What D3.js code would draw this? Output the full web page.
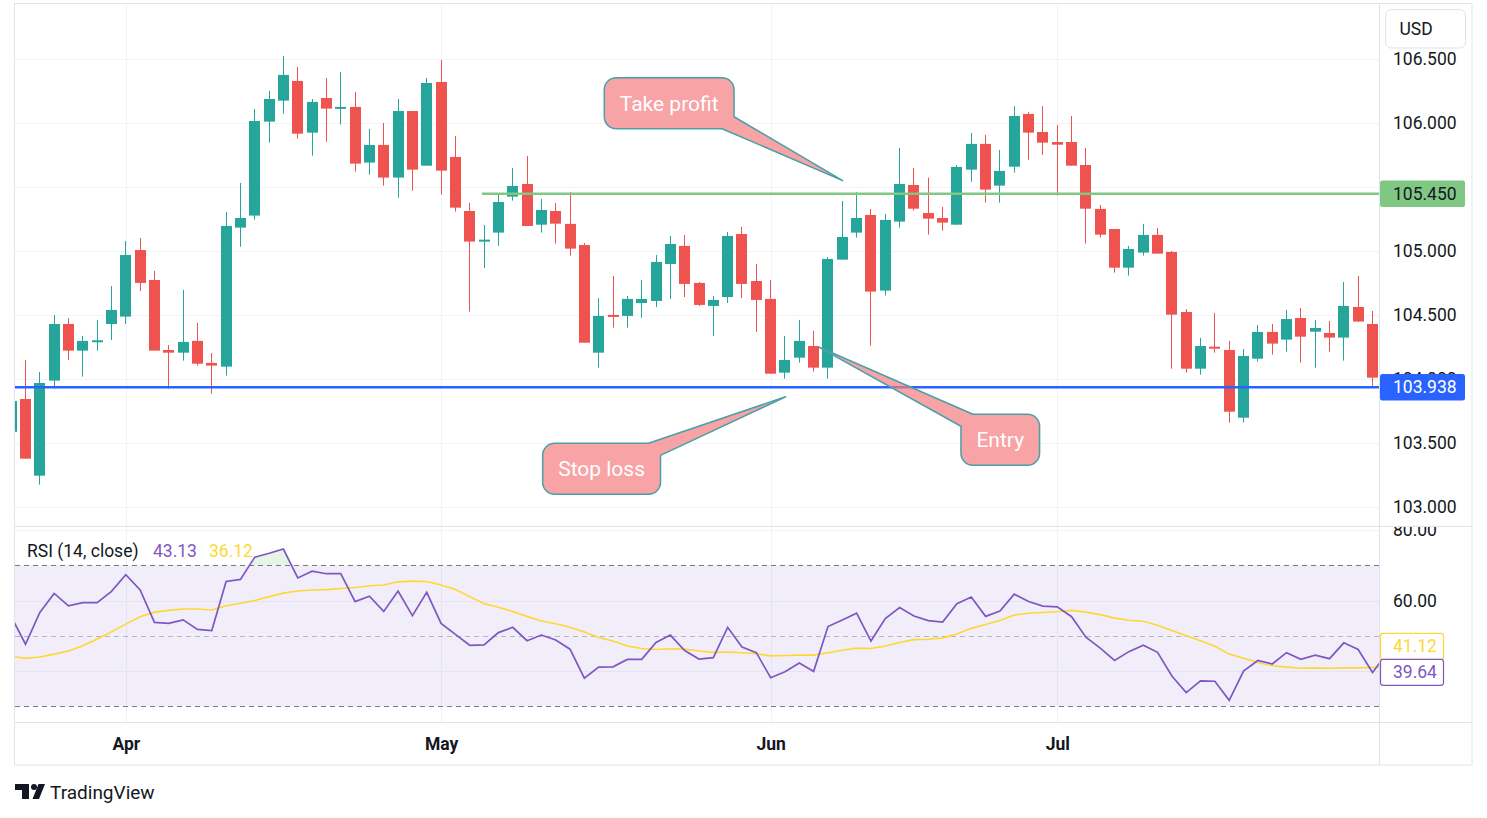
<!DOCTYPE html>
<html>
<head>
<meta charset="utf-8">
<script src="https://cdn.jsdelivr.net/npm/d3@7"></script>
<style>
  body { margin: 0; background: #fff; }
  svg { display: block; font-family: Roboto, "Noto Sans", sans-serif; }
</style>
</head>
<body>
<svg id="chart" width="1487" height="818"></svg>
<script>
// daily bars, first one only peeks in at the left edge, last one sits under the price scale
const dates = [
  "2024-03-20","2024-03-21","2024-03-22","2024-03-25","2024-03-26","2024-03-27","2024-03-28","2024-03-29",
  "2024-04-01","2024-04-02","2024-04-03","2024-04-04","2024-04-05","2024-04-08","2024-04-09","2024-04-10",
  "2024-04-11","2024-04-12","2024-04-15","2024-04-16","2024-04-17","2024-04-18","2024-04-19","2024-04-22",
  "2024-04-23","2024-04-24","2024-04-25","2024-04-26","2024-04-29","2024-04-30",
  "2024-05-01","2024-05-02","2024-05-03","2024-05-06","2024-05-07","2024-05-08","2024-05-09","2024-05-10",
  "2024-05-13","2024-05-14","2024-05-15","2024-05-16","2024-05-17","2024-05-20","2024-05-21","2024-05-22",
  "2024-05-23","2024-05-24","2024-05-27","2024-05-28","2024-05-29","2024-05-30","2024-05-31",
  "2024-06-03","2024-06-04","2024-06-05","2024-06-06","2024-06-07","2024-06-10","2024-06-11","2024-06-12",
  "2024-06-13","2024-06-14","2024-06-17","2024-06-18","2024-06-19","2024-06-20","2024-06-21","2024-06-24",
  "2024-06-25","2024-06-26","2024-06-27","2024-06-28",
  "2024-07-01","2024-07-02","2024-07-03","2024-07-04","2024-07-05","2024-07-08","2024-07-09","2024-07-10",
  "2024-07-11","2024-07-12","2024-07-15","2024-07-16","2024-07-17","2024-07-18","2024-07-19","2024-07-22",
  "2024-07-23","2024-07-24","2024-07-25","2024-07-26","2024-07-29","2024-07-30","2024-07-31",
  "2024-08-01"
];

const opens = [
  103.59, 103.846, 103.247, 103.99, 104.432, 104.224, 104.3, 104.432, 104.49, 105.01,
  104.776, 104.229, 104.208, 104.3, 104.128, 104.099, 105.185, 105.279, 106.013, 106.177,
  106.331, 105.927, 106.198, 106.122, 106.128, 105.693, 105.831, 105.576, 106.096, 105.669,
  106.323, 105.737, 105.315, 105.081, 105.146, 105.427, 105.526, 105.208, 105.315, 105.214,
  105.049, 104.208, 104.503, 104.495, 104.596, 104.612, 104.901, 105.042, 104.753, 104.573,
  104.643, 105.135, 104.768, 104.628, 104.052, 104.169, 104.26, 104.091, 104.935, 105.146,
  105.284, 104.693, 105.232, 105.518, 105.299, 105.26, 105.208, 105.638, 105.839, 105.513,
  105.661, 106.073, 105.932, 105.854, 105.854, 105.674, 105.331, 105.174, 104.872, 104.99,
  105.128, 104.995, 104.526, 104.083, 104.255, 104.229, 103.7, 104.161, 104.37, 104.31,
  104.479, 104.372, 104.362, 104.326, 104.565, 104.432, 104.013
];
const highs = [
  103.9, 104.151, 104.057, 104.503, 104.479, 104.339, 104.464, 104.729, 105.081, 105.104,
  104.846, 104.268, 104.698, 104.44, 104.206, 105.307, 105.534, 106.112, 106.253, 106.526,
  106.44, 106.19, 106.354, 106.401, 106.245, 105.956, 106.003, 106.19, 106.096, 106.354,
  106.495, 105.901, 105.378, 105.206, 105.453, 105.651, 105.745, 105.409, 105.378, 105.464,
  105.065, 104.635, 104.807, 104.651, 104.776, 104.971, 105.12, 105.128, 104.76, 104.651,
  105.151, 105.19, 104.901, 104.776, 104.339, 104.464, 104.378, 104.956, 105.393, 105.464,
  105.331, 105.292, 105.807, 105.651, 105.576, 105.346, 105.674, 105.924, 105.909, 105.792,
  106.135, 106.089, 106.135, 105.987, 106.057, 105.807, 105.362, 105.174, 105.042, 105.214,
  105.182, 105.003, 104.549, 104.323, 104.518, 104.3, 104.237, 104.424, 104.432, 104.542,
  104.557, 104.464, 104.456, 104.76, 104.807, 104.534, 104.18
];
const lows = [
  103.52, 103.38, 103.177, 103.927, 104.151, 104.021, 104.224, 104.307, 104.432, 104.69,
  104.224, 103.927, 104.146, 104.107, 103.888, 104.029, 105.036, 105.247, 105.849, 106.076,
  105.88, 105.747, 105.857, 105.99, 105.622, 105.599, 105.513, 105.419, 105.474, 105.669,
  105.443, 105.31, 104.529, 104.87, 105.042, 105.396, 105.198, 105.146, 105.06, 104.966,
  104.286, 104.091, 104.404, 104.404, 104.482, 104.565, 104.628, 104.643, 104.573, 104.339,
  104.596, 104.635, 104.37, 104.044, 104.005, 104.13, 104.06, 104.005, 104.935, 105.107,
  104.263, 104.654, 105.185, 105.318, 105.13, 105.161, 105.208, 105.544, 105.38, 105.38,
  105.615, 105.716, 105.753, 105.435, 105.669, 105.06, 105.107, 104.833, 104.81, 104.966,
  104.982, 104.083, 104.052, 104.036, 104.208, 103.661, 103.661, 104.138, 104.193, 104.216,
  104.13, 104.091, 104.216, 104.146, 104.451, 103.935, 103.95
];
const closes = [
  103.83, 103.38, 103.971, 104.432, 104.224, 104.3, 104.305, 104.542, 104.971, 104.753,
  104.224, 104.208, 104.292, 104.122, 104.107, 105.198, 105.26, 106.018, 106.19, 106.378,
  105.919, 106.167, 106.115, 106.128, 105.685, 105.831, 105.576, 106.096, 105.638, 106.315,
  105.63, 105.341, 105.076, 105.091, 105.385, 105.51, 105.198, 105.323, 105.216, 105.021,
  104.286, 104.495, 104.497, 104.628, 104.628, 104.917, 105.057, 104.745, 104.581, 104.62,
  105.12, 104.745, 104.62, 104.044, 104.151, 104.3, 104.091, 104.94, 105.112, 105.26,
  104.685, 105.245, 105.526, 105.333, 105.255, 105.224, 105.659, 105.839, 105.482, 105.628,
  106.057, 105.927, 105.849, 105.833, 105.669, 105.333, 105.13, 104.872, 105.018, 105.128,
  104.982, 104.505, 104.083, 104.26, 104.25, 103.747, 104.182, 104.37, 104.279, 104.471,
  104.333, 104.401, 104.326, 104.573, 104.451, 104.013, 104.12
];

const rsi = [
  55.5, 47.6, 56.6, 62.0, 58.5, 59.4, 59.4, 62.6, 67.3, 63.0,
  53.8, 53.5, 54.5, 51.8, 51.5, 65.4, 66.0, 72.3, 73.4, 74.6,
  66.4, 68.3, 67.6, 67.6, 59.7, 61.2, 56.9, 62.7, 55.7, 62.3,
  53.5, 50.4, 47.3, 47.4, 50.9, 52.4, 48.6, 50.2, 48.8, 46.2,
  38.0, 41.1, 41.2, 43.3, 43.3, 48.1, 50.2, 45.8, 43.4, 43.8,
  52.4, 46.8, 45.2, 38.1, 39.8, 42.3, 39.9, 52.6, 54.5, 56.4,
  48.5, 54.9, 58.0, 55.6, 54.3, 53.9, 59.1, 61.0, 55.5, 57.0,
  61.8, 59.7, 58.4, 58.2, 55.4, 49.6, 46.5, 43.0, 45.5, 47.3,
  45.3, 38.6, 33.9, 37.2, 37.1, 31.7, 40.0, 43.0, 42.0, 45.2,
  43.3, 44.5, 43.5, 48.0, 46.1, 39.6, 45.0
];
const rsiMa = [
  44.2, 43.6, 44.0, 44.8, 45.7, 47.2, 49.1, 51.1, 53.3, 55.4,
  56.7, 57.2, 57.6, 57.6, 57.3, 58.5, 59.2, 60.0, 61.1, 62.1,
  62.7, 63.0, 63.1, 63.4, 63.7, 64.2, 64.4, 65.3, 65.5, 65.4,
  64.4, 63.1, 61.1, 59.1, 58.1, 56.9, 55.5, 54.2, 53.4, 52.4,
  51.1, 49.5, 48.5, 47.1, 46.4, 46.1, 46.3, 46.2, 45.7, 45.3,
  45.4, 45.2, 44.9, 44.3, 44.4, 44.5, 44.5, 45.2, 45.9, 46.5,
  46.4, 47.1, 48.1, 48.9, 49.0, 49.4, 50.5, 52.1, 53.2, 54.3,
  55.9, 56.4, 56.6, 56.8, 57.2, 56.7, 56.0, 55.0, 54.4, 54.1,
  53.0, 51.5, 50.0, 48.6, 47.0, 44.8, 43.6, 42.4, 41.5, 41.1,
  40.8, 40.9, 40.8, 40.9, 40.9, 41.0, 41.1
];

const priceTicks = [103, 103.5, 104, 104.5, 105, 105.5, 106, 106.5];
const rsiTicks = [40, 60, 80];
const rsiLevels = [70, 50, 30];
const tickDates = ["2024-04-01", "2024-05-01", "2024-06-03", "2024-07-01"];
const tickLabels = ["Apr", "May", "Jun", "Jul"];

// drawn levels: stop loss line across the chart, take profit ray from early May
const stopLevel = 103.938;
const takeLevel = 105.45;
const takeStart = 32.85;   // bar index where the ray begins

// callouts: box top-left (bar index, price) and tip (bar index, price)
const callouts = [
  {text: "Take profit", bx: 41.39, by: 106.356, tx: 58.03, ty: 105.552, corner: "br"},
  {text: "Stop loss",   bx: 37.09, by: 103.50,  tx: 54.05, ty: 103.864, corner: "tr"},
  {text: "Entry",       bx: 66.28, by: 103.727, tx: 56.39, ty: 104.25,  corner: "tl"}
];

const rsiHeader = {name: "RSI (14, close)", value: "43.13", ma: "36.12"};
const rsiLast = {ma: 41.12, value: 39.64};

const UP = "#26a69a", DOWN = "#ef5350", TEXT = "#131722";
const GRID = "#f0f3fa", BORDER = "#e0e3eb";
const PURPLE = "#7e57c2", YELLOW = "#fdd835";

const svg = d3.select("#chart");
const left = 15, right = 1379, frameRight = 1472;
const pTop = 4, pBot = 526, rTop = 527, rBot = 723, tBot = 765;

const x = d3.scaleLinear().domain([1, 95]).range([25.5, 1372.5]);
const yP = d3.scaleLinear().domain([102.854, 106.932]).range([pBot, pTop]);
const yR = d3.scaleLinear().domain([25.26, 80.85]).range([rBot, rTop]);

svg.append("rect").attr("width", 1487).attr("height", 818).attr("fill", "#fff");

const defs = svg.append("defs");
function clip(id, x0, y0, w, h) {
  defs.append("clipPath").attr("id", id).append("rect")
    .attr("x", x0).attr("y", y0).attr("width", w).attr("height", h);
}
clip("clipP", left, pTop, right - left, pBot - pTop);
clip("clipR", left, rTop, right - left, rBot - rTop);
clip("clipPA", right, pTop, frameRight - right, pBot - pTop);
clip("clipRA", right, rTop, frameRight - right, rBot - rTop);

const tickIdx = tickDates.map(d => dates.indexOf(d));

// grid
const grid = svg.append("g").attr("stroke", GRID).attr("stroke-width", 1);
grid.selectAll(".hp").data(priceTicks).join("line")
  .attr("x1", left).attr("x2", right)
  .attr("y1", d => Math.round(yP(d)) + 0.5).attr("y2", d => Math.round(yP(d)) + 0.5);
grid.selectAll(".vx").data(tickIdx).join("line")
  .attr("x1", d => Math.round(x(d)) + 0.5).attr("x2", d => Math.round(x(d)) + 0.5)
  .attr("y1", pTop).attr("y2", rBot);
grid.selectAll(".hr").data(rsiTicks).join("line")
  .attr("x1", left).attr("x2", right)
  .attr("y1", d => Math.round(yR(d)) + 0.5).attr("y2", d => Math.round(yR(d)) + 0.5);

// candles
const candles = dates.map((d, k) => ({k, o: opens[k], h: highs[k], l: lows[k], c: closes[k]}));
const cg = svg.append("g").attr("clip-path", "url(#clipP)");
const bodyW = 11;
cg.selectAll(".wick").data(candles).join("rect")
  .attr("x", d => Math.round(x(d.k) - bodyW / 2) + 5)
  .attr("width", 1)
  .attr("y", d => yP(d.h))
  .attr("height", d => yP(d.l) - yP(d.h))
  .attr("fill", d => d.c >= d.o ? UP : DOWN);
cg.selectAll(".body").data(candles).join("rect")
  .attr("x", d => Math.round(x(d.k) - bodyW / 2))
  .attr("width", bodyW)
  .attr("y", d => yP(Math.max(d.o, d.c)))
  .attr("height", d => Math.max(Math.abs(yP(d.o) - yP(d.c)), 2))
  .attr("fill", d => d.c >= d.o ? UP : DOWN);

// horizontal levels
cg.append("line").attr("x1", left).attr("x2", right)
  .attr("y1", yP(stopLevel)).attr("y2", yP(stopLevel))
  .attr("stroke", "#2962ff").attr("stroke-width", 2.6);
cg.append("line").attr("x1", x(takeStart)).attr("x2", right)
  .attr("y1", yP(takeLevel)).attr("y2", yP(takeLevel))
  .attr("stroke", "#81c784").attr("stroke-width", 2.6);

// callouts
function calloutPath(b, t, corner) {
  const {x0, y0, x1, y1} = b, r = 12, a = 12;
  const p = d3.path();
  if (corner === "br") {
    p.moveTo(x0 + r, y0); p.lineTo(x1 - r, y0); p.arcTo(x1, y0, x1, y0 + r, r);
    p.lineTo(x1, y1 - a); p.lineTo(t[0], t[1]); p.lineTo(x1 - a, y1);
    p.lineTo(x0 + r, y1); p.arcTo(x0, y1, x0, y1 - r, r);
    p.lineTo(x0, y0 + r); p.arcTo(x0, y0, x0 + r, y0, r);
  } else if (corner === "tr") {
    p.moveTo(x0 + r, y0); p.lineTo(x1 - a, y0); p.lineTo(t[0], t[1]); p.lineTo(x1, y0 + a);
    p.lineTo(x1, y1 - r); p.arcTo(x1, y1, x1 - r, y1, r);
    p.lineTo(x0 + r, y1); p.arcTo(x0, y1, x0, y1 - r, r);
    p.lineTo(x0, y0 + r); p.arcTo(x0, y0, x0 + r, y0, r);
  } else {
    p.moveTo(x0 + a, y0); p.lineTo(x1 - r, y0); p.arcTo(x1, y0, x1, y0 + r, r);
    p.lineTo(x1, y1 - r); p.arcTo(x1, y1, x1 - r, y1, r);
    p.lineTo(x0 + r, y1); p.arcTo(x0, y1, x0, y1 - r, r);
    p.lineTo(x0, y0 + a); p.lineTo(t[0], t[1]);
  }
  p.closePath();
  return p.toString();
}
const ag = svg.append("g");
callouts.forEach(c => {
  const g = ag.append("g");
  const path = g.append("path");
  const x0 = x(c.bx), y0 = yP(c.by);
  const label = g.append("text").text(c.text)
    .attr("font-size", 21).attr("fill", "#fff");
  const tw = label.node().getComputedTextLength();
  const box = {x0, y0, x1: x0 + tw + 31, y1: y0 + 51};
  label.attr("x", x0 + 15.5).attr("y", y0 + 25.5).attr("dy", "0.36em");
  path.attr("d", calloutPath(box, [x(c.tx), yP(c.ty)], c.corner))
    .attr("fill", "rgba(245,124,127,0.7)")
    .attr("stroke", "#49a0a8").attr("stroke-width", 1.5)
    .attr("stroke-linejoin", "round");
});

// RSI pane
const rg = svg.append("g").attr("clip-path", "url(#clipR)");
rg.append("rect").attr("x", left).attr("width", right - left)
  .attr("y", yR(70)).attr("height", yR(30) - yR(70))
  .attr("fill", "rgba(126,87,194,0.1)");
rg.selectAll(".lvl").data(rsiLevels).join("line")
  .attr("x1", left).attr("x2", right)
  .attr("y1", d => Math.round(yR(d)) + 0.5).attr("y2", d => Math.round(yR(d)) + 0.5)
  .attr("stroke", d => d === 50 ? "rgba(120,123,134,0.5)" : "#787b86")
  .attr("stroke-width", 1).attr("stroke-dasharray", "5,4");

// overbought fill between the 70 level and the RSI line
const ob = [];
rsi.forEach((v, k) => {
  if (k > 0) {
    const u = rsi[k - 1];
    if ((u - 70) * (v - 70) < 0) ob.push([k - 1 + (70 - u) / (v - u), 70]);
  }
  ob.push([k, Math.max(v, 70)]);
});
rg.append("path").datum(ob)
  .attr("d", d3.area().x(d => x(d[0])).y0(yR(70)).y1(d => yR(d[1])))
  .attr("fill", "rgba(76,175,80,0.14)");

rg.append("path").datum(rsiMa)
  .attr("d", d3.line().x((d, k) => x(k)).y(d => yR(d)))
  .attr("fill", "none").attr("stroke", YELLOW).attr("stroke-width", 1.6);
rg.append("path").datum(rsi)
  .attr("d", d3.line().x((d, k) => x(k)).y(d => yR(d)))
  .attr("fill", "none").attr("stroke", PURPLE).attr("stroke-width", 1.7);

const hdr = svg.append("g").attr("font-size", 17.5);
hdr.append("text").attr("x", 27).attr("y", 557).attr("fill", TEXT).text(rsiHeader.name);
hdr.append("text").attr("x", 153).attr("y", 557).attr("fill", PURPLE).text(rsiHeader.value);
hdr.append("text").attr("x", 209).attr("y", 557).attr("fill", YELLOW).text(rsiHeader.ma);

// frame
const fr = svg.append("g").attr("stroke", BORDER).attr("fill", "none");
fr.append("rect").attr("x", 14.5).attr("y", 3.5).attr("width", frameRight - 14.5).attr("height", tBot - 3.5);
fr.append("line").attr("x1", 14.5).attr("x2", frameRight).attr("y1", pBot + 0.5).attr("y2", pBot + 0.5);
fr.append("line").attr("x1", 14.5).attr("x2", frameRight).attr("y1", rBot - 0.5).attr("y2", rBot - 0.5);
fr.append("line").attr("x1", right + 0.5).attr("x2", right + 0.5).attr("y1", 3.5).attr("y2", tBot);

// price scale; a tick label that sits right under a level tag is hidden, as TradingView does
function styleAxis(g) {
  g.select(".domain").remove();
  g.attr("font-family", null).attr("font-size", 17.5);
  g.selectAll("text").attr("fill", TEXT);
}
const tagLevels = [takeLevel, stopLevel];
svg.append("g").attr("clip-path", "url(#clipPA)")
  .append("g").attr("transform", `translate(${right},0)`)
  .call(d3.axisRight(yP).tickValues(priceTicks).tickFormat(d3.format(".3f")).tickSize(0).tickPadding(14))
  .call(styleAxis)
  .selectAll(".tick")
  .filter(d => tagLevels.some(t => Math.abs(yP(d) - yP(t)) < 7))
  .remove();

function axisTag(y, fill, color, txt, w) {
  const g = svg.append("g");
  g.append("rect").attr("x", right + 1).attr("y", y - 13.25).attr("width", w).attr("height", 26.5)
    .attr("rx", 2.5).attr("fill", fill);
  g.append("text").attr("x", right + 14).attr("y", y).attr("dy", "0.35em")
    .attr("font-size", 17.5).attr("fill", color).text(txt);
}
axisTag(yP(takeLevel), "#81c784", TEXT, d3.format(".3f")(takeLevel), 85);
axisTag(yP(stopLevel), "#2962ff", "#fff", d3.format(".3f")(stopLevel), 85);

// currency badge
svg.append("rect").attr("x", right + 1).attr("y", 4).attr("width", frameRight - right - 2).attr("height", 47).attr("fill", "#fff");
svg.append("rect").attr("x", 1385.5).attr("y", 9.5).attr("width", 80).attr("height", 38.5).attr("rx", 6)
  .attr("fill", "#fff").attr("stroke", BORDER);
svg.append("text").attr("x", 1399.5).attr("y", 29).attr("dy", "0.35em").attr("font-size", 17.5).attr("fill", TEXT).text("USD");

// RSI scale
svg.append("g").attr("clip-path", "url(#clipRA)")
  .append("g").attr("transform", `translate(${right},0)`)
  .call(d3.axisRight(yR).tickValues(rsiTicks).tickFormat(d3.format(".2f")).tickSize(0).tickPadding(14))
  .call(styleAxis);

const yVal = yR(rsiLast.value);
function rsiTag(cy, color, txt) {
  svg.append("rect").attr("x", right + 1.5).attr("y", cy - 13).attr("width", 63).attr("height", 26)
    .attr("rx", 2.5).attr("fill", "#fff").attr("stroke", color).attr("stroke-width", 1.2);
  svg.append("text").attr("x", right + 14).attr("y", cy).attr("dy", "0.35em")
    .attr("font-size", 17.5).attr("fill", color).text(txt);
}
rsiTag(yVal - 26, YELLOW, d3.format(".2f")(rsiLast.ma));
rsiTag(yVal, PURPLE, d3.format(".2f")(rsiLast.value));

// time scale
const tAx = svg.append("g").attr("transform", `translate(0,${rBot})`)
  .call(d3.axisBottom(x).tickValues(tickIdx).tickFormat((d, i) => tickLabels[i]).tickSize(0).tickPadding(15))
  .call(styleAxis);
tAx.selectAll("text").attr("font-weight", "bold");

// watermark
const logo = svg.append("g").attr("fill", TEXT);
logo.append("rect").attr("x", 15).attr("y", 784).attr("width", 14).attr("height", 6);
logo.append("rect").attr("x", 22).attr("y", 784).attr("width", 7).attr("height", 15);
logo.append("circle").attr("cx", 34).attr("cy", 787).attr("r", 3);
logo.append("path").attr("d", "M38.5,784L45,784L39,799L32.5,799Z");
svg.append("text").attr("x", 50).attr("y", 799).attr("font-size", 19).attr("fill", TEXT).text("TradingView");
</script>
</body>
</html>
